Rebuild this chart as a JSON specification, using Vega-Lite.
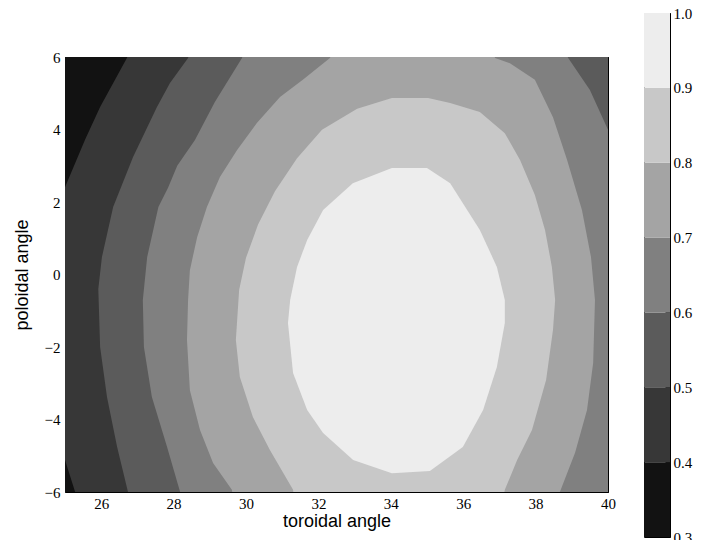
{
  "$schema": "https://vega.github.io/schema/vega-lite/v6.json",
  "padding": {"left": 12, "top": 5, "right": 0, "bottom": 0},
  "background": "white",
  "spacing": 27,
  "config": {
    "view": {"stroke": "#000000", "strokeWidth": 1},
    "axis": {"labelFont": "Liberation Serif", "labelFontSize": 15, "labelColor": "#000000", "titleFont": "Liberation Sans", "titleFontSize": 18, "titleFontWeight": "normal", "titleColor": "#000000", "tickColor": "#000000", "grid": false, "domain": false, "labelFlush": false, "labelOverlap": false, "minExtent": 0}
  },
  "resolve": {"scale": {"color": "independent"}},
  "datasets": {
    "poly": [
      {"level":0.3,"i":1,"x":24,"y":-7},{"level":0.3,"i":2,"x":24,"y":7},{"level":0.3,"i":3,"x":41,"y":7},{"level":0.3,"i":4,"x":41,"y":-7},
      {"level":0.4,"i":1,"x":24.9,"y":2.15},{"level":0.4,"i":2,"x":25.0,"y":2.41},{"level":0.4,"i":3,"x":25.55,"y":3.71},{"level":0.4,"i":4,"x":25.97,"y":4.62},{"level":0.4,"i":5,"x":26.71,"y":5.97},{"level":0.4,"i":6,"x":26.8,"y":6.2},{"level":0.4,"i":7,"x":41,"y":6.2},{"level":0.4,"i":8,"x":41,"y":-6.2},{"level":0.4,"i":9,"x":25.32,"y":-6.2},{"level":0.4,"i":10,"x":25.28,"y":-6.0},{"level":0.4,"i":11,"x":25.0,"y":-5.12},{"level":0.4,"i":12,"x":24.9,"y":-4.85},
      {"level":0.5,"i":1,"x":28.45,"y":6.2},{"level":0.5,"i":2,"x":28.40,"y":5.97},{"level":0.5,"i":3,"x":27.90,"y":5.28},{"level":0.5,"i":4,"x":27.54,"y":4.62},{"level":0.5,"i":5,"x":26.88,"y":3.24},{"level":0.5,"i":6,"x":26.33,"y":1.86},{"level":0.5,"i":7,"x":26.02,"y":0.48},{"level":0.5,"i":8,"x":25.92,"y":-0.4},{"level":0.5,"i":9,"x":25.97,"y":-2.0},{"level":0.5,"i":10,"x":26.16,"y":-3.38},{"level":0.5,"i":11,"x":26.44,"y":-4.76},{"level":0.5,"i":12,"x":26.74,"y":-6.0},{"level":0.5,"i":13,"x":26.8,"y":-6.2},{"level":0.5,"i":14,"x":41,"y":-6.2},{"level":0.5,"i":15,"x":41,"y":6.2},
      {"level":0.6,"i":1,"x":29.95,"y":6.2},{"level":0.6,"i":2,"x":29.89,"y":5.97},{"level":0.6,"i":3,"x":29.14,"y":4.76},{"level":0.6,"i":4,"x":28.59,"y":3.71},{"level":0.6,"i":5,"x":28.10,"y":3.0},{"level":0.6,"i":6,"x":27.85,"y":2.4},{"level":0.6,"i":7,"x":27.58,"y":1.86},{"level":0.6,"i":8,"x":27.27,"y":0.48},{"level":0.6,"i":9,"x":27.15,"y":-0.70},{"level":0.6,"i":10,"x":27.18,"y":-2.0},{"level":0.6,"i":11,"x":27.40,"y":-3.38},{"level":0.6,"i":12,"x":27.82,"y":-4.76},{"level":0.6,"i":13,"x":28.18,"y":-6.0},{"level":0.6,"i":14,"x":28.25,"y":-6.2},{"level":0.6,"i":15,"x":41,"y":-6.2},{"level":0.6,"i":16,"x":41,"y":3.6},{"level":0.6,"i":17,"x":40.1,"y":3.8},{"level":0.6,"i":18,"x":40.0,"y":3.99},{"level":0.6,"i":19,"x":39.50,"y":5.09},{"level":0.6,"i":20,"x":38.90,"y":5.97},{"level":0.6,"i":21,"x":38.8,"y":6.2},
      {"level":0.7,"i":1,"x":32.4,"y":6.2},{"level":0.7,"i":2,"x":32.32,"y":5.97},{"level":0.7,"i":3,"x":31.57,"y":5.37},{"level":0.7,"i":4,"x":30.94,"y":4.90},{"level":0.7,"i":5,"x":30.30,"y":4.18},{"level":0.7,"i":6,"x":29.75,"y":3.43},{"level":0.7,"i":7,"x":29.28,"y":2.69},{"level":0.7,"i":8,"x":28.92,"y":1.86},{"level":0.7,"i":9,"x":28.65,"y":1.03},{"level":0.7,"i":10,"x":28.45,"y":0.12},{"level":0.7,"i":11,"x":28.40,"y":-0.70},{"level":0.7,"i":12,"x":28.37,"y":-1.81},{"level":0.7,"i":13,"x":28.45,"y":-3.19},{"level":0.7,"i":14,"x":28.73,"y":-4.29},{"level":0.7,"i":15,"x":29.09,"y":-5.2},{"level":0.7,"i":16,"x":29.61,"y":-5.94},{"level":0.7,"i":17,"x":29.65,"y":-6.2},{"level":0.7,"i":18,"x":38.6,"y":-6.2},{"level":0.7,"i":19,"x":38.67,"y":-6.0},{"level":0.7,"i":20,"x":39.09,"y":-4.92},{"level":0.7,"i":21,"x":39.42,"y":-3.74},{"level":0.7,"i":22,"x":39.59,"y":-2.44},{"level":0.7,"i":23,"x":39.64,"y":-0.70},{"level":0.7,"i":24,"x":39.53,"y":0.48},{"level":0.7,"i":25,"x":39.28,"y":1.78},{"level":0.7,"i":26,"x":38.87,"y":3.16},{"level":0.7,"i":27,"x":38.48,"y":4.34},{"level":0.7,"i":28,"x":37.98,"y":5.37},{"level":0.7,"i":29,"x":37.29,"y":5.83},{"level":0.7,"i":30,"x":36.88,"y":5.97},{"level":0.7,"i":31,"x":36.8,"y":6.2},
      {"level":0.8,"i":1,"x":34.03,"y":4.87},{"level":0.8,"i":2,"x":33.07,"y":4.57},{"level":0.8,"i":3,"x":32.10,"y":3.99},{"level":0.8,"i":4,"x":31.41,"y":3.21},{"level":0.8,"i":5,"x":30.80,"y":2.30},{"level":0.8,"i":6,"x":30.33,"y":1.37},{"level":0.8,"i":7,"x":30.0,"y":0.46},{"level":0.8,"i":8,"x":29.81,"y":-0.43},{"level":0.8,"i":9,"x":29.72,"y":-1.81},{"level":0.8,"i":10,"x":29.83,"y":-2.83},{"level":0.8,"i":11,"x":30.19,"y":-3.93},{"level":0.8,"i":12,"x":30.66,"y":-4.84},{"level":0.8,"i":13,"x":31.30,"y":-5.94},{"level":0.8,"i":14,"x":31.33,"y":-6.2},{"level":0.8,"i":15,"x":37.1,"y":-6.2},{"level":0.8,"i":16,"x":37.15,"y":-5.94},{"level":0.8,"i":17,"x":37.49,"y":-5.12},{"level":0.8,"i":18,"x":37.90,"y":-4.29},{"level":0.8,"i":19,"x":38.29,"y":-2.91},{"level":0.8,"i":20,"x":38.48,"y":-1.53},{"level":0.8,"i":21,"x":38.54,"y":-0.70},{"level":0.8,"i":22,"x":38.45,"y":0.21},{"level":0.8,"i":23,"x":38.26,"y":1.23},{"level":0.8,"i":24,"x":37.98,"y":2.19},{"level":0.8,"i":25,"x":37.57,"y":3.16},{"level":0.8,"i":26,"x":37.15,"y":3.90},{"level":0.8,"i":27,"x":36.46,"y":4.48},{"level":0.8,"i":28,"x":35.64,"y":4.73},{"level":0.8,"i":29,"x":35.03,"y":4.87},
      {"level":0.9,"i":1,"x":34.03,"y":2.94},{"level":0.9,"i":2,"x":35.0,"y":2.94},{"level":0.9,"i":3,"x":35.64,"y":2.52},{"level":0.9,"i":4,"x":36.46,"y":1.23},{"level":0.9,"i":5,"x":36.93,"y":0.21},{"level":0.9,"i":6,"x":37.15,"y":-0.70},{"level":0.9,"i":7,"x":37.15,"y":-1.34},{"level":0.9,"i":8,"x":36.93,"y":-2.55},{"level":0.9,"i":9,"x":36.55,"y":-3.74},{"level":0.9,"i":10,"x":35.99,"y":-4.76},{"level":0.9,"i":11,"x":35.08,"y":-5.42},{"level":0.9,"i":12,"x":34.03,"y":-5.48},{"level":0.9,"i":13,"x":32.96,"y":-5.12},{"level":0.9,"i":14,"x":32.13,"y":-4.37},{"level":0.9,"i":15,"x":31.69,"y":-3.74},{"level":0.9,"i":16,"x":31.30,"y":-2.72},{"level":0.9,"i":17,"x":31.16,"y":-1.34},{"level":0.9,"i":18,"x":31.22,"y":-0.70},{"level":0.9,"i":19,"x":31.41,"y":0.21},{"level":0.9,"i":20,"x":31.69,"y":0.95},{"level":0.9,"i":21,"x":32.13,"y":1.78},{"level":0.9,"i":22,"x":32.95,"y":2.52}
    ],
    "bands": [
      {"lo":0.3,"hi":0.4},{"lo":0.4,"hi":0.5},{"lo":0.5,"hi":0.6},{"lo":0.6,"hi":0.7},{"lo":0.7,"hi":0.8},{"lo":0.8,"hi":0.9},{"lo":0.9,"hi":1.0}
    ]
  },
  "hconcat": [
    {
      "spacing": 0,
      "vconcat": [
        {
          "width": 543,
          "height": 36,
          "view": {"stroke": null},
          "data": {"values": [{}]},
          "mark": {"type": "point", "opacity": 0}
        },
        {
          "width": 543,
          "height": 435,
          "layer": [
            {
              "data": {"name": "poly"},
              "mark": {"type": "line", "filled": true, "clip": true, "interpolate": "linear"},
              "encoding": {
                "x": {"field": "x", "type": "quantitative", "scale": {"domain": [25, 40], "nice": false, "zero": false},
                      "axis": {"orient": "bottom", "values": [26, 28, 30, 32, 34, 36, 38, 40], "title": "toroidal angle", "tickSize": -6, "labelPadding": 10, "titlePadding": 1}},
                "y": {"field": "y", "type": "quantitative", "scale": {"domain": [-6, 6], "nice": false, "zero": false},
                      "axis": {"orient": "left", "values": [-6, -4, -2, 0, 2, 4, 6], "title": "poloidal angle", "tickSize": -6, "labelPadding": 11, "titlePadding": 13}},
                "color": {"field": "level", "type": "ordinal",
                          "scale": {"domain": [0.3, 0.4, 0.5, 0.6, 0.7, 0.8, 0.9], "range": ["#121212", "#373737", "#5b5b5b", "#808080", "#a4a4a4", "#c8c8c8", "#ededed"]},
                          "legend": null},
                "order": {"field": "i", "type": "quantitative"}
              }
            },
            {
              "data": {"name": "poly"},
              "transform": [{"filter": "datum.x >= 25 && datum.x <= 40 && datum.y >= -6 && datum.y <= 6"}],
              "mark": {"type": "point", "opacity": 0},
              "encoding": {
                "x": {"field": "x", "type": "quantitative", "scale": {"domain": [25, 40], "nice": false, "zero": false},
                      "axis": {"orient": "top", "values": [26, 28, 30, 32, 34, 36, 38, 40], "title": null, "labels": false, "tickSize": -6}},
                "y": {"field": "y", "type": "quantitative", "scale": {"domain": [-6, 6], "nice": false, "zero": false},
                      "axis": {"orient": "right", "values": [-6, -4, -2, 0, 2, 4, 6], "title": null, "labels": false, "tickSize": -6}}
              }
            }
          ],
          "resolve": {"axis": {"x": "independent", "y": "independent"}}
        }
      ]
    },
    {
      "width": 26,
      "height": 524,
      "data": {"name": "bands"},
      "mark": {"type": "rect"},
      "encoding": {
        "y": {"field": "lo", "type": "quantitative", "scale": {"domain": [0.3, 1.0], "nice": false, "zero": false},
              "axis": {"orient": "right", "values": [0.3, 0.4, 0.5, 0.6, 0.7, 0.8, 0.9, 1.0], "format": ".1f", "title": null, "tickSize": -5, "labelPadding": 8}},
        "y2": {"field": "hi"},
        "color": {"field": "lo", "type": "ordinal",
                  "scale": {"domain": [0.3, 0.4, 0.5, 0.6, 0.7, 0.8, 0.9], "range": ["#121212", "#373737", "#5b5b5b", "#808080", "#a4a4a4", "#c8c8c8", "#ededed"]},
                  "legend": null}
      }
    }
  ]
}
